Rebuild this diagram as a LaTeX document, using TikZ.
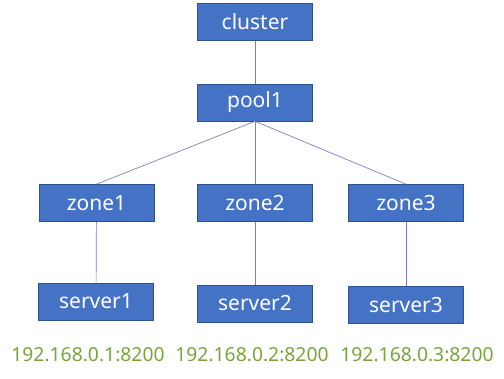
\documentclass[tikz,border=0pt]{standalone}
\usepackage{fontspec}
\setmainfont{Noto Sans}
\definecolor{boxfill}{HTML}{4472C4}
\definecolor{boxline}{HTML}{2F528F}
\definecolor{conn}{HTML}{7A7FC0}
\definecolor{ipgreen}{HTML}{7AA33C}
\begin{document}
\begin{tikzpicture}[x=1pt,y=-1pt,
  box/.style={draw=boxline,fill=boxfill,line width=0.6pt,minimum width=115pt,minimum height=37pt,inner sep=0pt,text=white,font=\fontsize{21}{24}\selectfont},
  ip/.style={text=ipgreen,font=\fontsize{19.3}{22}\selectfont,inner sep=0pt},
  link/.style={draw=conn,line width=0.7pt}]
\useasboundingbox (0,0) rectangle (504,379);
\node[box] (cluster) at (255,22) {cluster};
\node[box] (pool) at (255,102.5) {pool1};
\node[box] (z1) at (96.5,203) {zone1};
\node[box] (z2) at (255,203) {zone2};
\node[box] (z3) at (406,203) {zone3};
\node[box] (s1) at (96,301.5) {server1};
\node[box] (s2) at (255,303.5) {server2};
\node[box] (s3) at (406,305) {server3};
\node[ip] (ip1) at (88,355) {192.168.0.1:8200};
\node[ip] (ip2) at (252,355) {192.168.0.2:8200};
\node[ip] (ip3) at (417,355) {192.168.0.3:8200};
\draw[link] (cluster) -- (pool);
\draw[link] (pool.south) -- (z1.north);
\draw[link] (pool.south) -- (z2.north);
\draw[link] (pool.south) -- (z3.north);
\draw[link] (z1) -- (s1);
\draw[link] (z2) -- (s2);
\draw[link] (z3) -- (s3);
\end{tikzpicture}
\end{document}
